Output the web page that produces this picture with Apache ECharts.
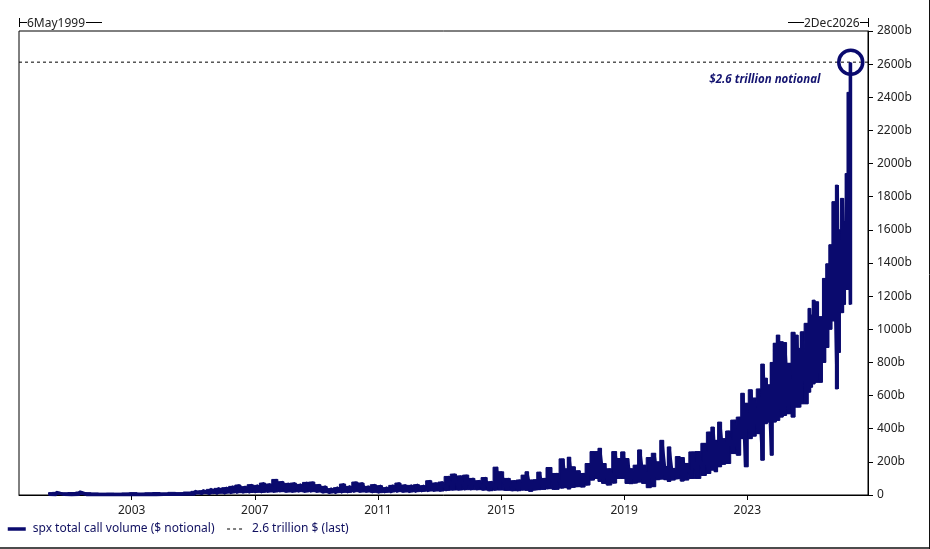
<!DOCTYPE html>
<html>
<head>
<meta charset="utf-8">
<script src="https://cdn.jsdelivr.net/npm/echarts@6/dist/echarts.min.js"></script>
<style>
html,body{margin:0;padding:0;background:#fff}
#chart{width:930px;height:549px}
</style>
</head>
<body>
<div id="chart"></div>
<script>
// envelope of the daily series, $ billions
var years = [
  2000.30,2000.55,2000.80,2001.05,2001.30,2001.55,2001.80,2002.05,2002.30,2002.55,
  2002.80,2003.05,2003.30,2003.55,2003.80,2004.05,2004.30,2004.55,2004.80,2005.05,
  2005.30,2005.55,2005.80,2006.05,
  2006.25,2006.45,2006.65,2006.85,2007.05,2007.25,2007.45,2007.65,2007.85,2008.05,
  2008.25,2008.45,2008.65,2008.85,2009.05,2009.25,2009.45,2009.65,2009.85,2010.05,
  2010.25,2010.45,2010.65,2010.85,2011.05,2011.25,2011.45,2011.65,2011.85,2012.05,
  2012.25,2012.45,2012.65,2012.85,2013.05,2013.25,2013.45,2013.65,2013.85,2014.05,
  2014.25,2014.45,
  2014.65,2014.83,2014.97,2015.20,2015.40,2015.57,2015.73,2015.83,2015.96,2016.10,
  2016.22,2016.38,2016.54,2016.77,2017.00,2017.10,2017.20,2017.33,2017.50,2017.65,
  2017.81,2017.97,2018.10,2018.20,2018.33,2018.50,2018.69,2018.82,2018.95,2019.10,
  2019.21,2019.37,2019.50,2019.63,2019.80,2019.96,2020.09,2020.22,2020.35,2020.45,
  2020.58,2020.74,2020.90,2021.00,2021.20,2021.39,2021.59,2021.75,2021.88,2021.97,
  2022.10,2022.23,2022.36,2022.56,2022.72,2022.85,2022.95,2023.11,2023.21,2023.37,
  2023.50,2023.60,2023.70,2023.79,2023.89,2023.99,2024.12,2024.21,2024.34,2024.50,
  2024.60,2024.70,2024.76,2024.93,2025.02,2025.08,2025.15,2025.25,2025.38,2025.50,
  2025.60,2025.70,2025.80,2025.92,2025.96,2026.09,2026.15,2026.22,2026.28,2026.35
];
var highs = [
  14,16,13,15,18,14,12,10,11,10,
  12,14,11,13,15,12,16,14,18,22,
  26,34,40,44,
  52,60,50,62,58,72,66,94,80,70,
  72,64,76,78,62,52,38,44,66,52,
  78,72,52,62,56,44,58,72,60,58,
  62,56,86,72,78,112,126,115,120,100,
  86,105,
  80,168,140,100,86,90,120,140,90,92,
  138,100,166,130,218,158,228,170,146,130,
  190,262,262,282,190,158,262,220,260,220,
  158,180,272,180,226,252,200,330,172,290,
  160,232,226,190,260,262,312,380,410,330,
  440,340,386,452,470,614,554,635,585,640,
  790,705,665,800,916,965,925,920,795,982,
  965,885,985,1036,1126,1086,1176,1166,1076,1307,
  1395,1510,1770,1870,1600,1790,1650,1940,2430,2610
];
var lows = [
  4,3,4,3,4,3,3,3,3,3,
  3,4,3,4,3,4,4,5,6,6,
  8,8,10,11,
  12,14,14,15,16,16,18,18,20,18,
  18,20,18,20,18,14,12,14,16,16,
  20,18,18,16,14,16,18,20,18,18,
  20,22,24,24,24,28,30,30,32,32,
  32,30,
  26,30,30,28,26,26,30,28,22,30,
  32,34,38,34,42,44,36,46,50,48,
  60,90,100,82,70,60,72,100,100,70,
  68,72,78,70,44,50,92,96,92,82,
  90,98,84,90,100,100,118,130,150,140,
  170,185,190,250,240,340,170,340,355,370,
  210,430,440,240,440,450,470,480,490,470,
  530,530,550,550,620,650,670,680,680,800,
  890,1000,1050,640,860,1100,1150,1240,1240,1150
];
var lastValue = 2612;
var tickYears = [2003,2007,2011,2015,2019,2023];

// each period is drawn low to high, so the line ends on the last value
var volume = [];
var bodyRows = [];
for (var i = 0; i < years.length; i++) {
  volume.push([years[i], lows[i]]);
  volume.push([years[i], highs[i]]);
  bodyRows.push([years[i], lows[i], highs[i]]);
}

var navy = '#0a0a6e';
var font = '"Noto Sans"';
var xMin = 1999.34, xMax = 2026.92;

// one block per period, halfway to each neighbour, so the daily noise reads solid
function renderBody(params, api) {
  var i = params.dataIndex;
  var from = i > 0 ? (years[i - 1] + years[i]) / 2 : years[i];
  var to = i < years.length - 1 ? (years[i] + years[i + 1]) / 2 : years[i];
  var topLeft = api.coord([from, api.value(2)]);
  var bottomRight = api.coord([to, api.value(1)]);
  return {
    type: 'rect',
    shape: {
      x: topLeft[0], y: topLeft[1],
      width: bottomRight[0] - topLeft[0], height: bottomRight[1] - topLeft[1]
    },
    style: {fill: navy, stroke: navy, lineWidth: 1}
  };
}

var chart = echarts.init(document.getElementById('chart'));
chart.setOption({
  animation: false,
  backgroundColor: '#fff',
  textStyle: {fontFamily: font},
  grid: {left: 19, right: 62, top: 31, bottom: 54, show: true, borderColor: '#000', borderWidth: 1},
  legend: {
    left: 1, top: 518, itemWidth: 18, itemHeight: 10, itemGap: 12,
    itemStyle: {opacity: 0},
    textStyle: {color: '#101060', fontSize: 12, fontFamily: font, padding: [0, 0, 0, 2]},
    data: [
      {name: 'spx total call volume ($ notional)', lineStyle: {width: 3.5}},
      {name: '2.6 trillion $ (last)', lineStyle: {width: 1}}
    ]
  },
  xAxis: {
    type: 'value', min: xMin, max: xMax, splitLine: {show: false},
    axisLine: {lineStyle: {color: '#000'}},
    axisTick: {length: 5, lineStyle: {color: '#000'}, customValues: tickYears},
    axisLabel: {
      color: '#222', fontSize: 12, margin: 10, customValues: tickYears,
      formatter: function (v) { return String(Math.round(v)); }
    }
  },
  yAxis: {
    type: 'value', position: 'right', min: 0, max: 2800, interval: 200, splitLine: {show: false},
    axisLine: {show: true, lineStyle: {color: '#000'}},
    axisTick: {show: true, length: 5, lineStyle: {color: '#000'}},
    axisLabel: {
      color: '#222', fontSize: 12, margin: 9, padding: [3, 0, 0, 0],
      formatter: function (v) { return v === 0 ? '0' : v + 'b'; }
    }
  },
  series: [
    {
      type: 'custom', data: bodyRows, renderItem: renderBody, silent: true, clip: false, z: 3,
      encode: {x: 0, y: 2}
    },
    {
      name: 'spx total call volume ($ notional)',
      type: 'line', data: volume, symbol: 'none', clip: false, z: 3,
      lineStyle: {color: navy, width: 3.5, join: 'bevel'}, itemStyle: {color: navy},
      markPoint: {
        silent: true,
        data: [
          {
            coord: [2026.36, lastValue], symbol: 'circle', symbolSize: 24,
            itemStyle: {color: 'rgba(0,0,0,0)', borderColor: navy, borderWidth: 3.5},
            label: {show: false}
          },
          {
            coord: [2023.57, 2504], symbol: 'circle', symbolSize: 0,
            label: {
              show: true, position: 'inside', formatter: '$2.6 trillion notional',
              color: '#141470', fontSize: 11.5, fontWeight: 'bold', fontStyle: 'italic', fontFamily: font
            }
          }
        ]
      }
    },
    {
      name: '2.6 trillion $ (last)',
      type: 'line', data: [[xMin, lastValue], [xMax, lastValue]], symbol: 'none', z: 2,
      lineStyle: {color: '#000', width: 1, type: [3, 3]}, itemStyle: {color: '#000'}
    }
  ],
  graphic: [
    // date range markers over the plot
    {type: 'line', shape: {x1: 19.5, y1: 18, x2: 19.5, y2: 27}, style: {stroke: '#000'}},
    {type: 'line', shape: {x1: 19, y1: 22.5, x2: 27, y2: 22.5}, style: {stroke: '#000'}},
    {type: 'text', x: 27, y: 18, style: {text: '6May1999', fill: '#222', font: '12px ' + font}},
    {type: 'line', shape: {x1: 86, y1: 22.5, x2: 102, y2: 22.5}, style: {stroke: '#000'}},
    {type: 'line', shape: {x1: 788, y1: 22.5, x2: 804, y2: 22.5}, style: {stroke: '#000'}},
    {type: 'text', x: 804, y: 18, style: {text: '2Dec2026', fill: '#222', font: '12px ' + font}},
    {type: 'line', shape: {x1: 860, y1: 22.5, x2: 868, y2: 22.5}, style: {stroke: '#000'}},
    {type: 'line', shape: {x1: 868.5, y1: 18, x2: 868.5, y2: 27}, style: {stroke: '#000'}},
    // picture frame, only the bottom and right edges show
    {type: 'line', shape: {x1: 0, y1: 548, x2: 930, y2: 548}, style: {stroke: '#111', lineWidth: 1.5}},
    {type: 'line', shape: {x1: 929.5, y1: 0, x2: 929.5, y2: 549}, style: {stroke: '#111'}}
  ]
});
</script>
</body>
</html>
